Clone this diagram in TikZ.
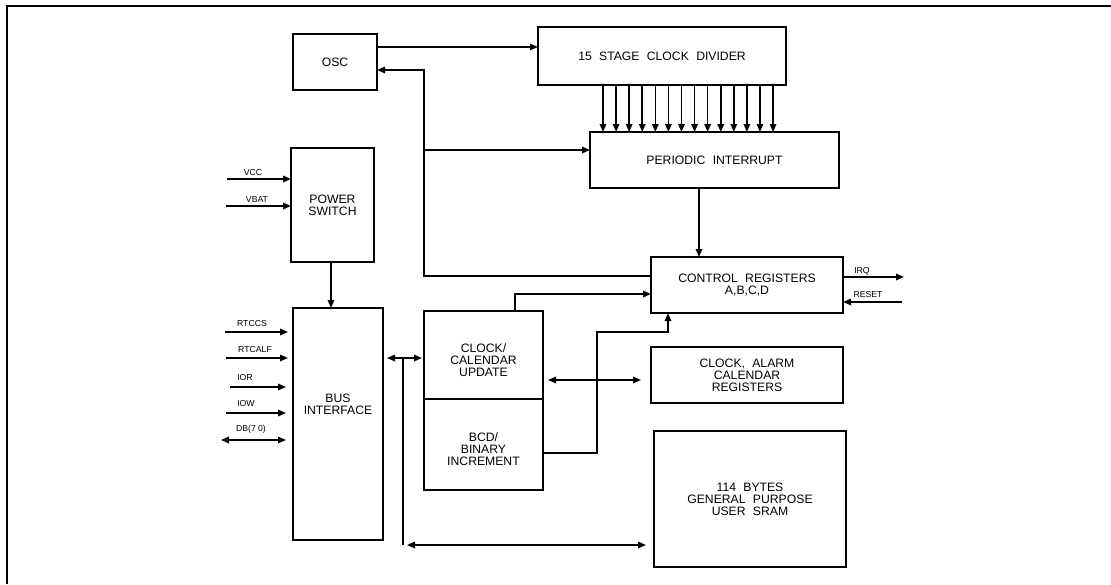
\documentclass[tikz,border=0pt]{standalone}
\usepackage{fontspec}
\setmainfont{Liberation Sans}
\usetikzlibrary{arrows.meta}
\newcommand\wsp{\hspace{0.6em}}
\begin{document}
\begin{tikzpicture}[x=1pt,y=-1pt,
  txt/.style={font=\fontsize{12.2}{12}\selectfont, align=center},
  box/.style={draw, line width=2.8pt, inner sep=0pt, outer sep=0pt, txt},
  con/.style={line width=1.6pt},
  arr/.style={con, -{Triangle[length=8pt,width=6.5pt]}},
  darr/.style={con, {Triangle[length=8pt,width=6.5pt]}-{Triangle[length=8pt,width=6.5pt]}},
  lab/.style={font=\fontsize{8.7}{9}\selectfont, inner sep=0pt}]
\useasboundingbox (0,0) rectangle (1111,584);
\draw[line width=2pt] (7,584) -- (7,6) -- (1111,6);

% boxes
\node[box, minimum width=84pt, minimum height=56pt] (osc) at (335,62) {OSC};
\node[box, minimum width=248pt, minimum height=58pt] (div) at (662,56) {15\wsp STAGE\wsp CLOCK\wsp DIVIDER};
\node[box, minimum width=249pt, minimum height=56pt] (pi) at (714.5,160) {PERIODIC\wsp INTERRUPT};
\node[box, minimum width=83pt, minimum height=114pt] (pw) at (332.5,205) {POWER\\SWITCH};
\node[box, minimum width=90pt, minimum height=232pt,
  label={[txt, yshift=20pt]center:BUS\\INTERFACE}] (bus) at (338,424) {};
\node[box, minimum width=119pt, minimum height=88pt,
  label={[txt, yshift=-5pt]center:CLOCK/\\CALENDAR\\UPDATE}] (ccu) at (483.5,355) {};
\node[box, minimum width=119pt, minimum height=91pt,
  label={[txt, yshift=-4.5pt]center:BCD/\\BINARY\\INCREMENT}] (bcd) at (483.5,444.5) {};
\node[box, minimum width=192pt, minimum height=56pt] (cr) at (747,285) {CONTROL\wsp REGISTERS\\A,B,C,D};
\node[box, minimum width=192pt, minimum height=56pt] (car) at (747,375) {CLOCK,\wsp ALARM\\CALENDAR\\REGISTERS};
\node[box, minimum width=192pt, minimum height=136pt] (sram) at (750,499) {114\wsp BYTES\\GENERAL\wsp PURPOSE\\USER\wsp SRAM};

% OSC to divider
\draw[arr] (osc.east |- 0,47) -- (div.west |- 0,47);
% feedback from control registers to OSC, with branch to periodic interrupt
\coordinate (fb) at (424,276);
\coordinate (br) at (424,150);
\draw[arr] (cr.west |- fb) -- (fb) -- (424,70) -- (osc.east |- 0,70);
\draw[arr] (br) -- (pi.west |- br);
% divider taps
\foreach \k in {0,...,13}{
  \coordinate (t\k) at ({603+13.08*\k},0);
  \draw[arr] (div.south -| t\k) -- (pi.north -| t\k);
}
% periodic interrupt to control registers
\draw[arr] (pi.south -| 699,0) -- (cr.north -| 699,0);
% IRQ / RESET
\draw[arr] (cr.east |- 0,277) -- (904,277);
\node[lab] (irq) at (862,271) {IRQ};
\draw[arr] (902,302) -- (cr.east |- 0,302);
\node[lab] (rst) at (868,294) {RESET};
% clock/calendar update to control registers
\draw[arr] (ccu.north -| 515,0) -- (515,294) -- (cr.west |- 0,294);
% BCD to control registers
\draw[arr] (bcd.east |- 0,453) -- (597,453) -- (597,332) -- (668,332) -- (cr.south -| 668,0);
% update <-> clock alarm registers
\draw[darr, shorten <=5pt, shorten >=10pt] (ccu.east |- 0,380) -- (car.west |- 0,380);
% power switch to bus
\draw[arr] (pw.south -| 331,0) -- (bus.north -| 331,0);
% bus <-> update, internal bus to SRAM
\draw[darr, shorten <=4pt, shorten >=2pt] (bus.east |- 0,358) -- (ccu.west |- 0,358);
\coordinate (vb) at (403,358);
\coordinate (vbb) at (403,545);
\draw[con] (vb) -- (vbb);
\draw[darr, shorten <=4pt, shorten >=8pt] (vbb) -- (sram.west |- vbb);

% power inputs
\draw[arr] (227,179) -- (pw.west |- 0,179);
\node[lab] (vcc) at (253,173) {VCC};
\draw[arr] (226,206) -- (pw.west |- 0,206);
\node[lab] (vbat) at (257,200) {VBAT};
% bus inputs
\draw[arr, shorten >=5pt] (225,332) -- (bus.west |- 0,332);
\node[lab] (rtccs) at (252,323) {RTCCS};
\draw[arr, shorten >=5pt] (226,358) -- (bus.west |- 0,358);
\node[lab] (rtcalf) at (255,349) {RTCALF};
\draw[arr, shorten >=7pt] (230,387) -- (bus.west |- 0,387);
\node[lab] (ior) at (245,377) {IOR};
\draw[arr, shorten >=7pt] (226,413) -- (bus.west |- 0,413);
\node[lab] (iow) at (246,403) {IOW};
\draw[darr, shorten >=7pt] (221,440) -- (bus.west |- 0,440);
\node[lab] (db) at (251,429) {DB(7\hspace{0.25em}0)};
\end{tikzpicture}
\end{document}
